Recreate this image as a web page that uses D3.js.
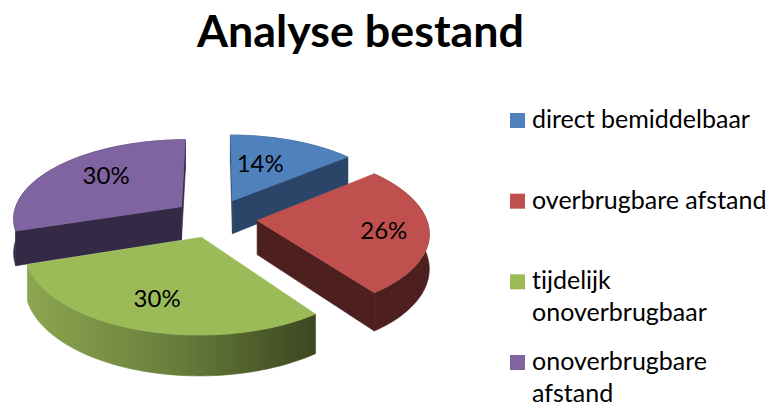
<!DOCTYPE html>
<html>
<head>
<meta charset="utf-8">
<script src="https://cdn.jsdelivr.net/npm/d3@7"></script>
<style>
  html, body { margin: 0; padding: 0; background: #fff; }
  svg { display: block; font-family: Lato, "Open Sans", sans-serif; font-variant-ligatures: none; }
</style>
</head>
<body>
<div id="chart"></div>
<script>
var categories = [['direct bemiddelbaar'], ['overbrugbare afstand'], ['tijdelijk', 'onoverbrugbaar'], ['onoverbrugbare', 'afstand']];
var values = [14, 26, 30, 30];
var topColors = ['#4f81bd', '#c0504d', '#9bbb59', '#8064a2'];
var wallColors = ['#2a4567', '#4e1f1f', 'url(#greenWall)', '#352a45'];
var labelRadius = [0.43, 0.74, 0.72, 0.6];
var labelNudge = [-10, 3, -2, -6];

var width = 766;
var height = 403;
var cx = 215;
var cy = 218;
var radius = 169;
var tilt = 78.8;
var depth = 34;
var perspective = 0.135;
var explode = 0.25;

var svg = d3.select('#chart')
  .append('svg')
  .attr('width', width)
  .attr('height', height);

var grad = svg.append('defs').append('linearGradient')
  .attr('id', 'greenWall')
  .attr('gradientUnits', 'userSpaceOnUse')
  .attr('x1', 27).attr('x2', 315).attr('y1', 0).attr('y2', 0);
grad.append('stop').attr('offset', 0).attr('stop-color', '#8ca650');
grad.append('stop').attr('offset', 0.5).attr('stop-color', '#6a7f3c');
grad.append('stop').attr('offset', 1).attr('stop-color', '#3c4720');

svg.append('text')
  .attr('x', 360.5)
  .attr('y', 47)
  .attr('text-anchor', 'middle')
  .style('font-size', '44.8px')
  .style('font-weight', 700)
  .text('Analyse bestand');

var pie = d3.pie().sort(null).value(function(d) { return d; });
var slices = pie(values);
var line = d3.line();

// plane point (X right, Y towards viewer) plus drop z, to screen
function project(X, Y, z) {
  var f = 1 / (1 - perspective * Y);
  return [cx + X * radius * f, cy + (Y * tilt + z * depth) * f];
}

function rim(slice, r, angle, z) {
  var mid = (slice.startAngle + slice.endAngle) / 2;
  return project(explode * Math.sin(mid) + r * Math.sin(angle),
    -explode * Math.cos(mid) - r * Math.cos(angle), z);
}

function arcPoints(slice, z) {
  var n = 60;
  return d3.range(n + 1).map(function(i) {
    return rim(slice, 1, slice.startAngle + (slice.endAngle - slice.startAngle) * i / n, z);
  });
}

// cut faces only when they look at the viewer
function cutFace(slice, angle) {
  return [rim(slice, 0, 0, 0), rim(slice, 1, angle, 0), rim(slice, 1, angle, 1), rim(slice, 0, 0, 1)];
}

function face(g, points, fill) {
  g.append('path')
    .attr('d', line(points) + 'Z')
    .attr('fill', fill)
    .attr('stroke', fill)
    .attr('stroke-width', 0.6);
}

var drawOrder = [3, 0, 1, 2];
drawOrder.forEach(function(i) {
  var slice = slices[i];
  var g = svg.append('g');
  face(g, arcPoints(slice, 0).concat(arcPoints(slice, 1).reverse()), wallColors[i]);

  var start = cutFace(slice, slice.startAngle);
  var end = cutFace(slice, slice.endAngle);
  if (d3.polygonArea(start) > 0) face(g, start, wallColors[i]);
  if (d3.polygonArea(end) < 0) face(g, end, wallColors[i]);

  face(g, [rim(slice, 0, 0, 0)].concat(arcPoints(slice, 0)), topColors[i]);
});

var total = d3.sum(values);
slices.forEach(function(slice, i) {
  var mid = (slice.startAngle + slice.endAngle) / 2;
  var p = rim(slice, labelRadius[i], mid, 0);
  svg.append('text')
    .attr('x', p[0])
    .attr('y', p[1] + labelNudge[i])
    .attr('dy', '0.35em')
    .attr('text-anchor', 'middle')
    .style('font-size', '24px')
    .text(d3.format('.0%')(slice.value / total));
});

var legendY = d3.scaleLinear().domain([0, 3]).range([128, 370]);
var legend = svg.selectAll('g.legend')
  .data(categories)
  .enter().append('g')
  .attr('class', 'legend')
  .attr('transform', function(d, i) { return 'translate(510,' + legendY(i) + ')'; });

legend.append('rect')
  .attr('y', -15)
  .attr('width', 15)
  .attr('height', 15)
  .attr('fill', function(d, i) { return topColors[i]; });

legend.selectAll('text')
  .data(function(d) { return d; })
  .enter().append('text')
  .attr('x', 22)
  .attr('y', function(d, i) { return i * 32; })
  .style('font-size', '25px')
  .text(function(d) { return d; });
</script>
</body>
</html>
